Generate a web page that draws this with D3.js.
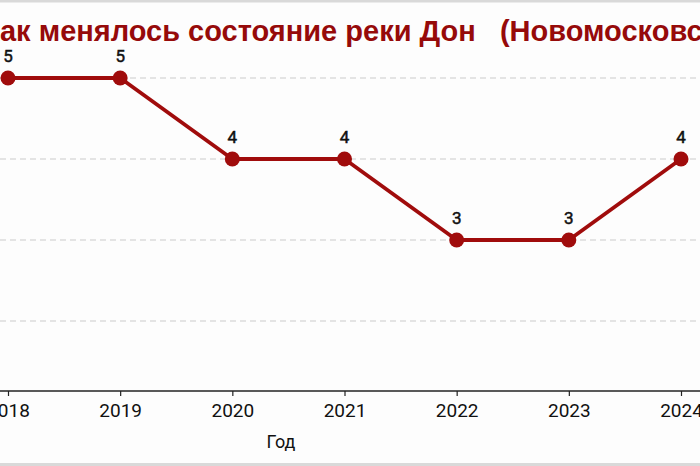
<!DOCTYPE html>
<html><head><meta charset="utf-8">
<script src="https://cdn.jsdelivr.net/npm/d3@7"></script>
<style>
html,body{margin:0;padding:0;background:#fdfdfd;}
svg{display:block;font-family:Roboto,"Noto Sans",sans-serif;}
</style></head>
<body>
<svg id="chart" width="700" height="466"></svg>
<script>
const years = [2018, 2019, 2020, 2021, 2022, 2023, 2024];
const values = [5, 5, 4, 4, 3, 3, 4];
const gridValues = [2, 3, 4, 5];
const titleText = "Как менялось состояние реки Дон   (Новомосковск)";
const xAxisTitle = "Год";

const W = 700, H = 466;
const svg = d3.select("#chart");

svg.append("rect").attr("width", W).attr("height", H).attr("fill", "#fdfdfd");
svg.append("rect").attr("width", W).attr("height", 2.5).attr("fill", "#d9d9d9");
svg.append("rect").attr("y", H - 3).attr("width", W).attr("height", 3).attr("fill", "#d9d9d9");

const x = d3.scaleLinear().domain([2018, 2024]).range([8, 681]);
const y = d3.scaleLinear().domain([1.136, 5]).range([391, 78]);

// gridlines
svg.append("g").selectAll("line").data(gridValues).join("line")
  .attr("x1", 0).attr("x2", W)
  .attr("y1", d => y(d)).attr("y2", d => y(d))
  .attr("stroke", "#cccccc").attr("stroke-width", 1.2)
  .attr("stroke-dasharray", "6,4");

// x axis
const xAxis = d3.axisBottom(x).tickValues(years).tickFormat(d3.format("d"))
  .tickSize(5).tickPadding(8);
const gx = svg.append("g").attr("transform", `translate(0,${y.range()[0]})`).call(xAxis);
gx.select(".domain").remove();
gx.append("line").attr("x1", 0).attr("x2", W).attr("stroke", "#222").attr("stroke-width", 1.5);
gx.selectAll(".tick line").attr("stroke", "#222").attr("stroke-width", 1.2);
gx.selectAll(".tick text").attr("fill", "#111").style("font-size", "19px")
  .style("font-family", "Roboto, sans-serif");

svg.append("text").attr("x", 281).attr("y", 448).attr("text-anchor", "middle")
  .style("font-size", "18px").attr("fill", "#111").text(xAxisTitle);

// line
const lineColor = "#a00c0c";
const pts = years.map((yr, i) => ({yr, v: values[i]}));
svg.append("path").datum(pts)
  .attr("d", d3.line().x(d => x(d.yr)).y(d => y(d.v)))
  .attr("fill", "none").attr("stroke", lineColor).attr("stroke-width", 3.8)
  .attr("stroke-linejoin", "round");

svg.append("g").selectAll("circle").data(pts).join("circle")
  .attr("cx", d => x(d.yr)).attr("cy", d => y(d.v)).attr("r", 7.5)
  .attr("fill", lineColor);

svg.append("g").selectAll("text").data(pts).join("text")
  .attr("x", d => x(d.yr)).attr("y", d => y(d.v) - 16)
  .attr("text-anchor", "middle").style("font-size", "17px").style("font-weight", 400)
  .attr("fill", "#111").attr("stroke", "#111").attr("stroke-width", 0.5)
  .text(d => d.v);

// title
const title = svg.append("text").attr("y", 41)
  .style("font-family", "'Liberation Sans', Arial, sans-serif")
  .style("font-size", "29px").style("font-weight", "bold")
  .style("white-space", "pre").attr("fill", "#960a0a").text(titleText);
const kw = title.node().getSubStringLength(0, 1);
title.attr("x", 0 - kw);
</script>
</body></html>
